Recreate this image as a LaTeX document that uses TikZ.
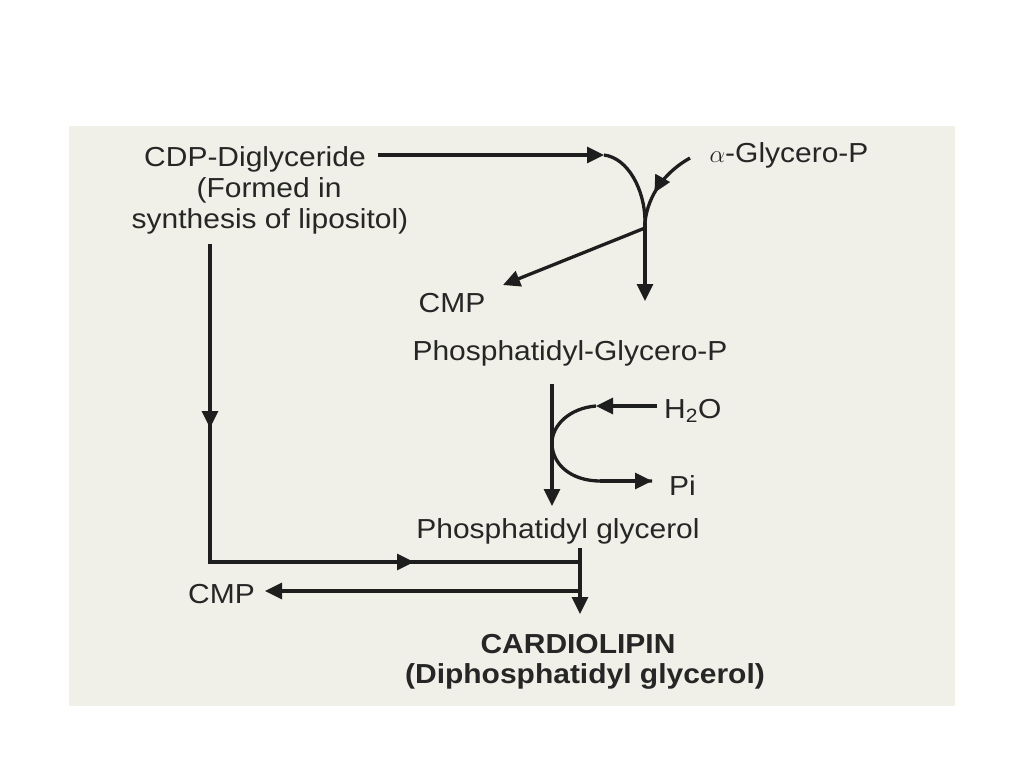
\documentclass[tikz,border=0pt]{standalone}
\usepackage{fontspec}
\setmainfont{Liberation Sans}[FakeStretch=1.09]
\usetikzlibrary{arrows.meta,decorations.markings}
\definecolor{bgc}{HTML}{F0F0E8}
\definecolor{txtc}{HTML}{262626}
\definecolor{linec}{HTML}{1E1E1E}
\begin{document}
\begin{tikzpicture}[x=1pt,y=-1pt,
  lbl/.style={font=\fontsize{27.5}{31}\selectfont, text=txtc, inner sep=0pt, anchor=base},
  boldlbl/.style={lbl, font=\fontsize{27.5}{31}\selectfont\bfseries},
  ln/.style={line width=3.3pt, draw=linec},
  tip/.style={-{Triangle[length=17pt,width=16pt]}},
  midtip/.style={postaction={decorate}, decoration={markings,
     mark=at position #1 with {\arrow[linec]{Triangle[length=17pt,width=16pt]}}}},
]
\useasboundingbox (0,0) rectangle (1024,767);
\fill[white] (0,0) rectangle (1024,767);
\fill[bgc] (69,126) rectangle (955,706);

% labels
\node[lbl] (cdp) at (255,167) {CDP-Diglyceride};
\node[lbl] (formed) at (269,198) {(Formed in};
\node[lbl] (synth) at (270,229) {synthesis of lipositol)};
\node[lbl] (agp) at (789,163) {$\alpha$-Glycero-P};
\node[lbl] (cmpa) at (452,312) {CMP};
\node[lbl] (pgp) at (570,360) {Phosphatidyl-Glycero-P};
\node[lbl, anchor=base west] (h2o) at (664,418) {H\textsubscript{2}O};
\node[lbl, anchor=base west] (pi) at (669,495) {Pi};
\node[lbl] (pg) at (558,538) {Phosphatidyl glycerol};
\node[lbl, anchor=base west] (cmpb) at (188,603) {CMP};
\node[boldlbl] (cl) at (578,653) {CARDIOLIPIN};
\node[boldlbl] (dpg) at (585,683) {(Diphosphatidyl glycerol)};

% coordinates
\coordinate (c1) at (604,155);
\coordinate (j) at (645,222);
\coordinate (j2) at (645,228);
\coordinate (a1) at (690,158);
\coordinate (pgptop) at (645,301);
\coordinate (cmpatip) at (503,285);

\coordinate (v1) at (552,384);
\coordinate (v2) at (552,506);
\coordinate (h1) at (657,406);
\coordinate (h2) at (596,406);
\coordinate (m) at (552,443);
\coordinate (p1) at (600,481);
\coordinate (p2) at (652,481);

\coordinate (l1) at (210,244);
\coordinate (lmid) at (210,428);
\coordinate (l2) at (210,562);
\coordinate (hmid) at (414,562);
\coordinate (l3) at (580,562);
\coordinate (l4) at (580,548);
\coordinate (l5) at (580,614);
\coordinate (cm2) at (580,591);
\coordinate (cm2tip) at (265,591);

% first reaction
\draw[ln] (c1) .. controls (628,158) and (645,190) .. (j);
\draw[ln,tip,shorten <=12pt] (cdp.east |- c1) -- (c1);
\draw[ln,midtip=0.62] (a1) .. controls (665,172) and (648,195) .. (j);
\draw[ln,tip] (j) -- (pgptop);
\draw[ln,tip] (j2) -- (cmpatip);

% second reaction
\draw[ln,tip] (v1) -- (v2);
\draw[ln] (h2) .. controls (570,408) and (552,425) .. (m);
\draw[ln,tip] (h1) -- (h2);
\draw[ln] (m) .. controls (552,465) and (572,481) .. (p1) -- (p2);
\draw[ln,tip] (p1) -- (p2);

% third reaction
\draw[ln] (l1) -- (l2) -- (l3);
\draw[ln,tip] (l1) -- (lmid);
\draw[ln,tip] (l2) -- (hmid);
\draw[ln,tip] (l4) -- (l5);
\draw[ln,tip] (cm2) -- (cm2tip);
\end{tikzpicture}
\end{document}
